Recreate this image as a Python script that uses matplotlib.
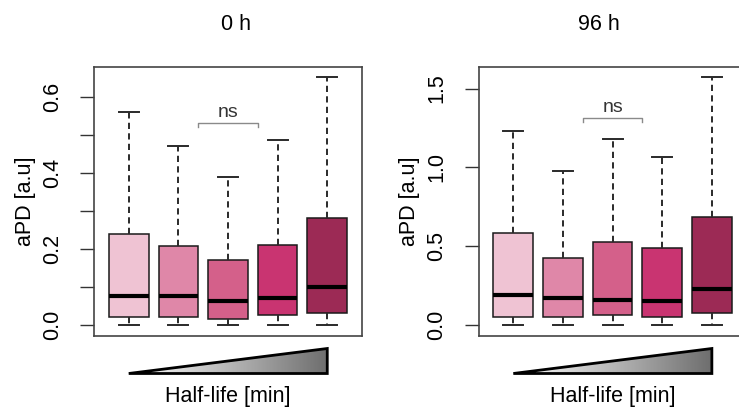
import matplotlib
matplotlib.use("Agg")
import matplotlib.pyplot as plt
import numpy as np
from matplotlib.patches import Polygon

plt.rcParams['font.family'] = ['Liberation Sans', 'DejaVu Sans']

# ---- data ----
titles = ["0 h", "96 h"]
ylabel = "aPD [a.u]"
xlabel = "Half-life [min]"
colors = ["#EFC3D3", "#DF87A8", "#D4608A", "#C93471", "#9C2A55"]

# panel 0 h
p0_whislo = [0.0, 0.0, 0.0, 0.0, 0.0]
p0_q1 = [0.020, 0.020, 0.016, 0.026, 0.031]
p0_med = [0.076, 0.076, 0.064, 0.070, 0.101]
p0_q3 = [0.239, 0.207, 0.170, 0.211, 0.280]
p0_whishi = [0.561, 0.470, 0.388, 0.485, 0.652]
p0_ticks = [0.0, 0.1, 0.2, 0.3, 0.4, 0.5, 0.6]
p0_ticklabels = ["0.0", "", "0.2", "", "0.4", "", "0.6"]
p0_ns = (2.4, 3.6, 0.532)

# panel 96 h
p1_whislo = [0.0, 0.0, 0.0, 0.0, 0.0]
p1_q1 = [0.053, 0.049, 0.062, 0.053, 0.079]
p1_med = [0.193, 0.170, 0.159, 0.153, 0.231]
p1_q3 = [0.583, 0.426, 0.524, 0.488, 0.687]
p1_whishi = [1.233, 0.976, 1.182, 1.065, 1.574]
p1_ticks = [0.0, 0.5, 1.0, 1.5]
p1_ticklabels = ["0.0", "0.5", "1.0", "1.5"]
p1_ns = (2.4, 3.6, 1.316)

panels = [
    (p0_whislo, p0_q1, p0_med, p0_q3, p0_whishi, p0_ticks, p0_ticklabels, p0_ns),
    (p1_whislo, p1_q1, p1_med, p1_q3, p1_whishi, p1_ticks, p1_ticklabels, p1_ns),
]

W, H = 739, 408
fig = plt.figure(figsize=(W / 100, H / 100), dpi=100)

ax_left_px = [94, 478.6]
ax_w_px = 268
ax_top_px, ax_bot_px = 67, 336
title_x_px = [236, 599]
ylab_x_px = [26, 409]

for i, (wlo, q1, med, q3, whi, ticks, tlabels, ns) in enumerate(panels):
    ax = fig.add_axes([ax_left_px[i] / W, (H - ax_bot_px) / H,
                       ax_w_px / W, (ax_bot_px - ax_top_px) / H])
    stats = []
    for k in range(len(med)):
        stats.append(dict(whislo=wlo[k], q1=q1[k], med=med[k], q3=q3[k],
                          whishi=whi[k], fliers=[]))
    bp = ax.bxp(stats, positions=np.arange(1, len(med) + 1), widths=0.8,
                patch_artist=True, showfliers=False,
                boxprops=dict(linewidth=1.1, edgecolor="#1a1a1a"),
                medianprops=dict(color="black", linewidth=3.0, solid_capstyle="butt"),
                whiskerprops=dict(color="#2a2a2a", linewidth=1.4, linestyle=(0, (3.2, 2.2))),
                capprops=dict(color="#2a2a2a", linewidth=1.4))
    for patch, c in zip(bp['boxes'], colors):
        patch.set_facecolor(c)

    top = max(whi)
    rng = top - 0.0
    ax.set_ylim(0.0 - 0.04 * rng - 0.003 * (i + 1), top + 0.04 * rng)
    ax.set_xlim(0.3, 5.7)
    ax.set_xticks([])
    ax.set_yticks(ticks)
    ax.set_yticklabels(tlabels, rotation=90, va="center", fontsize=15.5)
    ax.tick_params(axis="y", length=10, width=1.0, pad=12.5, color="#333333")
    for sp in ax.spines.values():
        sp.set_linewidth(1.2)
        sp.set_color("#444444")

    # ns bracket
    x0, x1, yb = ns
    span = ax.get_ylim()[1] - ax.get_ylim()[0]
    dy = 0.017 * span
    ax.plot([x0, x0, x1, x1], [yb - dy, yb, yb, yb - dy], color="#8a8a8a", lw=1.0)
    ax.text((x0 + x1) / 2, yb + 0.038 * span, "ns",
            ha="center", va="center", fontsize=14, color="#333333")

    # title and y label
    fig.text(title_x_px[i] / W, 1 - 24 / H, titles[i], ha="center", va="center", fontsize=15.5)
    fig.text(ylab_x_px[i] / W, 1 - 201 / H, ylabel, ha="center", va="center",
             rotation=90, fontsize=15.5)

    # gradient triangle
    tax = fig.add_axes([ax_left_px[i] / W, (H - 373.5) / H, ax_w_px / W, 25 / H])
    tax.set_xlim(0.3, 5.7)
    tax.set_ylim(0, 1)
    tax.axis("off")
    grad = np.linspace(0, 1, 256).reshape(1, -1)
    cmap = matplotlib.colors.LinearSegmentedColormap.from_list("g", ["#ffffff", "#6e6e6e"])
    im = tax.imshow(grad, extent=[1, 5, 0, 1], aspect="auto", cmap=cmap, origin="lower")
    tri = Polygon([[1, 0], [5, 0], [5, 1]], closed=True, facecolor="none",
                  edgecolor="black", linewidth=2.0, joinstyle="miter", clip_on=False)
    tax.add_patch(tri)
    im.set_clip_path(tri)

    fig.text((ax_left_px[i] + 0.7 * 49.6 + 2 * 49.6) / W, 1 - 396.5 / H, xlabel,
             ha="center", va="center", fontsize=15.5)

fig.savefig("out.png", dpi=100, facecolor="white")
